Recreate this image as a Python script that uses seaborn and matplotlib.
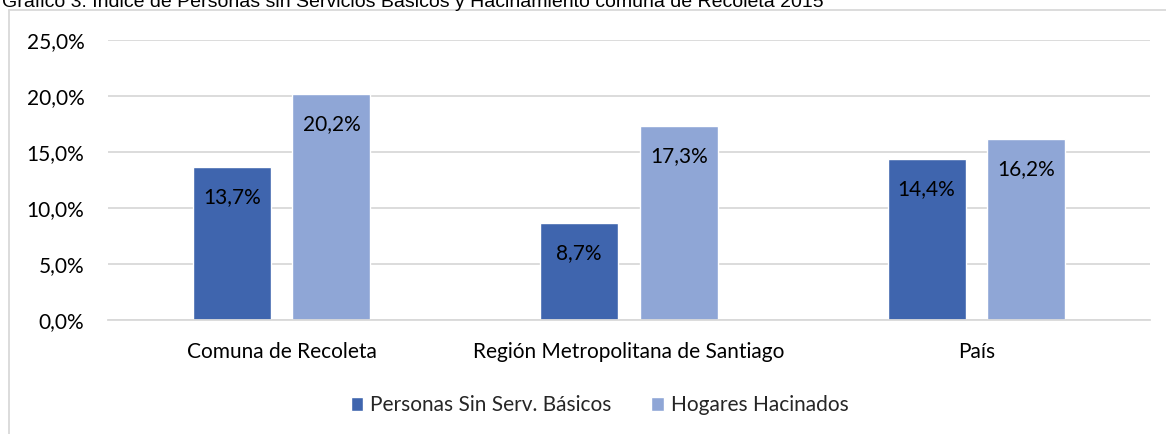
import matplotlib
matplotlib.use("Agg")
import matplotlib.pyplot as plt
import seaborn as sns
import pandas as pd
from matplotlib.lines import Line2D
from matplotlib.ticker import FuncFormatter

categories = ["Comuna de Recoleta", "Región Metropolitana de Santiago", "País"]
series_names = ["Personas Sin Serv. Básicos", "Hogares Hacinados"]
personas = [13.7, 8.7, 14.4]
hogares = [20.2, 17.3, 16.2]
yticks = [0, 5, 10, 15, 20, 25]
title = "Gráfico 3: Índice de Personas sin Servicios Básicos y Hacinamiento comuna de Recoleta 2015"

df = pd.DataFrame({
    "cat": categories * 2,
    "serie": [series_names[0]] * 3 + [series_names[1]] * 3,
    "val": personas + hogares,
})

sns.set_theme(style="white")
plt.rcParams["font.family"] = ["Lato", "DejaVu Sans"]

FS = 15
W, H = 1166, 434
fig = plt.figure(figsize=(W / 100, H / 100), dpi=100)
ax = fig.add_axes([108 / W, 1 - 320 / H, (1150 - 108) / W, 280 / H])

palette = {series_names[0]: "#3F65AE", series_names[1]: "#8FA6D6"}
sns.barplot(data=df, x="cat", y="val", hue="serie", order=categories,
            hue_order=series_names, palette=palette, width=0.573, gap=0.216,
            saturation=1, ax=ax, legend=True)

ax.set_ylim(0, 25)
ax.set_yticks(yticks)
ax.yaxis.set_major_formatter(FuncFormatter(lambda v, p: f"{v:.1f}%".replace(".", ",")))
ax.grid(axis="y", color="#D9D9D9", linewidth=1.3)
ax.set_axisbelow(True)
for s in ["top", "right", "left"]:
    ax.spines[s].set_visible(False)
ax.spines["bottom"].set_color("#D9D9D9")
ax.spines["bottom"].set_linewidth(1.3)
ax.set_xlabel("")
ax.set_ylabel("")
ax.tick_params(axis="y", labelsize=FS, colors="#000000", pad=17, length=0)
ax.tick_params(axis="x", labelsize=FS, colors="#000000", pad=16, length=0)

for cont in ax.containers:
    labels = [f"{b.get_height():.1f}%".replace(".", ",") for b in cont]
    ax.bar_label(cont, labels=labels, padding=-29, fontsize=FS, color="#000000")

handles, lbls = ax.get_legend_handles_labels()
ax.legend(handles, lbls, loc="center", bbox_to_anchor=(0.472, -0.305), ncol=2,
          frameon=False, fontsize=FS, handlelength=0.6, handleheight=0.6,
          handletextpad=0.35, columnspacing=1.9)

# chart frame
fig.add_artist(Line2D([9 / W, 9 / W], [0, 1 - 10 / H], color="#D9D9D9", linewidth=1.3))
fig.add_artist(Line2D([9 / W, 1], [1 - 10 / H, 1 - 10 / H], color="#D9D9D9", linewidth=1.3))

fig.text(2 / W, 1 - 7 / H, title, ha="left", va="baseline", fontsize=14,
         color="#000000", family=["Liberation Sans", "DejaVu Sans"])

fig.savefig("out.png", dpi=100)
